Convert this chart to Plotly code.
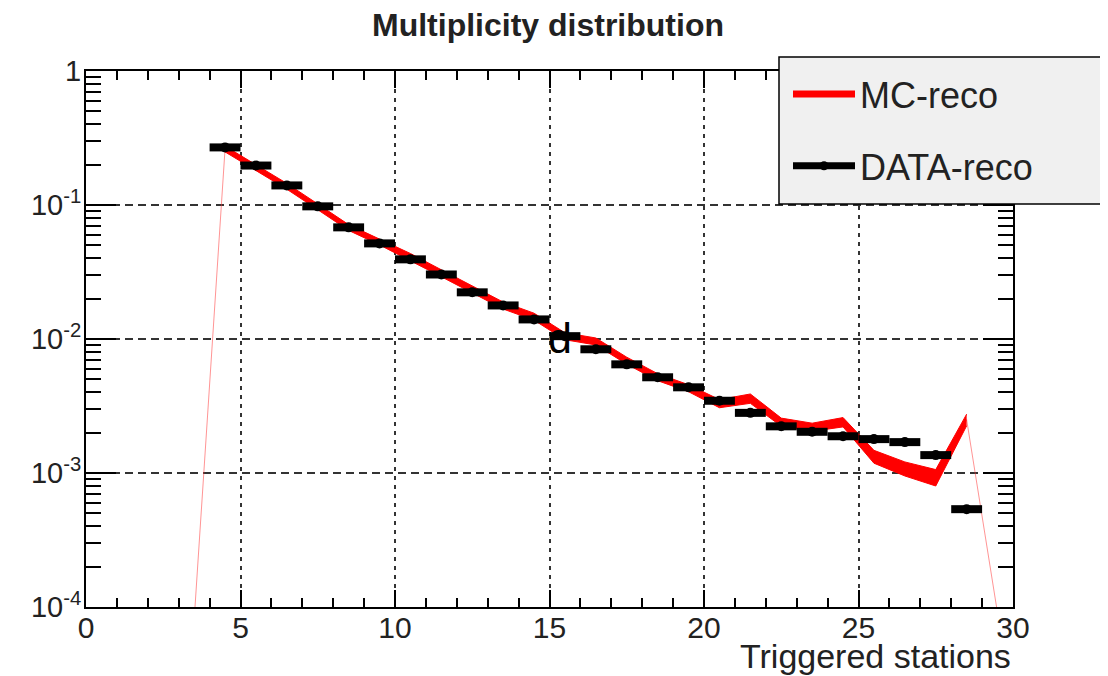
import plotly.graph_objects as go

# ---------------- data ----------------
data_x = [4.5 + i for i in range(25)]
data_y = [0.269, 0.197, 0.140, 0.0977, 0.0681, 0.0517, 0.0393, 0.0303, 0.0223,
          0.0178, 0.0140, 0.0105, 0.00838, 0.00647, 0.00518, 0.00436, 0.00346,
          0.00281, 0.00223, 0.00203, 0.00188, 0.00179, 0.00170, 0.00136, 0.000537]

mc_x = [3.5 + i for i in range(27)]
mc_y = [8e-5, 0.262, 0.190, 0.138, 0.097, 0.068, 0.053, 0.041, 0.031, 0.0235,
        0.0178, 0.0147, 0.0105, 0.0096, 0.0069, 0.0052, 0.0043, 0.0033, 0.0036,
        0.0024, 0.0022, 0.0024, 0.00133, 0.00108, 0.00093, 0.0025, 9e-5]
# relative MC uncertainty for bins 4.5 .. 28.5
mc_relerr = [0.05, 0.05, 0.05, 0.05, 0.05, 0.05, 0.06, 0.06, 0.06, 0.06, 0.06,
             0.06, 0.06, 0.06, 0.06, 0.06, 0.07, 0.08, 0.07, 0.07, 0.08, 0.11,
             0.12, 0.14, 0.10]

x_ticks = [0, 5, 10, 15, 20, 25, 30]
y_ticks = [1e-4, 1e-3, 1e-2, 1e-1, 1]
y_ticktext = ["10<sup>-4</sup>", "10<sup>-3</sup>", "10<sup>-2</sup>", "10<sup>-1</sup>", "1"]

FONT = "Liberation Sans, Arial, sans-serif"

# the page body adds an 8px offset, so the figure is 8px smaller
OFF = 8
W, H = 1108 - OFF, 676 - OFF
PL, PR, PT, PB = 86, 1013, 71, 607          # plot area in window pixels
PW, PH = PR - PL, PB - PT

band_x = mc_x[1:-1]
band_v = mc_y[1:-1]
band_lo = [v * (1 - e) for v, e in zip(band_v, mc_relerr)]
band_hi = [v * (1 + e) for v, e in zip(band_v, mc_relerr)]

fig = go.Figure()

# thin MC line through all points
fig.add_trace(go.Scatter(x=mc_x, y=mc_y, mode="lines",
                         line=dict(color="rgba(255,60,60,0.55)", width=1),
                         showlegend=False, hoverinfo="skip"))
# MC error band
fig.add_trace(go.Scatter(x=band_x, y=band_lo, mode="lines",
                         line=dict(color="red", width=1),
                         showlegend=False, hoverinfo="skip"))
fig.add_trace(go.Scatter(x=band_x, y=band_hi, mode="lines", fill="tonexty",
                         fillcolor="red", line=dict(color="red", width=1),
                         showlegend=False, hoverinfo="skip"))
# data points
fig.add_trace(go.Scatter(x=data_x, y=data_y, mode="markers",
                         marker=dict(color="black", size=10, symbol="circle"),
                         error_x=dict(type="constant", value=0.5, color="black",
                                      thickness=8, width=0),
                         showlegend=False))

# legend entries
fig.add_trace(go.Scatter(x=[None], y=[None], mode="lines", name="MC-reco",
                         line=dict(color="red", width=7), legendgroup="mc"))
fig.add_trace(go.Scatter(x=[None], y=[None], mode="lines+markers", name="DATA-reco",
                         line=dict(color="black", width=7),
                         marker=dict(color="black", size=9), legendgroup="data"))

minor_y = [m * 10 ** e for e in range(-4, 0) for m in range(2, 10)]


def px_x(p):
    return (p - PL) / PW


def px_y(p):
    return (PB - p) / PH


fig.update_layout(
    width=W, height=H,
    margin=dict(l=PL - OFF, r=1108 - PR, t=PT - OFF, b=676 - PB),
    paper_bgcolor="white", plot_bgcolor="white",
    font=dict(family=FONT, color="#222"),
    title=dict(text="Multiplicity distribution", x=(548 - OFF) / W, xanchor="center",
               y=1 - (25 - OFF) / H, yanchor="middle",
               font=dict(size=32, family=FONT, color="#222", weight="bold")),
    xaxis=dict(range=[0, 30], tickvals=x_ticks, ticks="inside", ticklen=17,
               tickwidth=1.5, tickcolor="black", showline=True, linecolor="black",
               linewidth=2, mirror="ticks", showgrid=True, gridcolor="#333",
               gridwidth=1.5, griddash="4px,5px", zeroline=False,
               ticklabelstandoff=-7,
               tickfont=dict(size=30, family=FONT, color="#222"),
               minor=dict(dtick=1, ticks="inside", ticklen=9, tickwidth=1.5,
                          tickcolor="black", showgrid=False)),
    yaxis=dict(type="log", range=[-4, 0], tickvals=y_ticks, ticktext=y_ticktext,
               ticks="inside", ticklen=30, tickwidth=1.5, tickcolor="black",
               showline=True, linecolor="black", linewidth=2, mirror="ticks",
               showgrid=True, gridcolor="#333", gridwidth=1.5, griddash="8px,5px",
               zeroline=False, ticklabelstandoff=-3,
               tickfont=dict(size=29, family=FONT, color="#222"),
               minor=dict(tickvals=minor_y, ticks="inside", ticklen=15,
                          tickwidth=1.5, tickcolor="black", showgrid=False)),
    legend=dict(x=px_x(788), y=px_y(64), xanchor="left", yanchor="top",
                bgcolor="rgba(0,0,0,0)", borderwidth=0,
                font=dict(size=36, family=FONT, color="#222"),
                itemwidth=62, tracegroupgap=22, traceorder="grouped"),
    shapes=[dict(type="rect", xref="paper", yref="paper",
                 x0=px_x(779), x1=px_x(1125),
                 y0=px_y(204), y1=px_y(57),
                 fillcolor="#f0f0f0", line=dict(color="black", width=1.5),
                 layer="above")],
    annotations=[
        dict(text="Triggered stations", xref="paper", yref="paper", x=1.0,
             y=px_y(656), xanchor="right", yanchor="middle",
             showarrow=False, font=dict(size=34, family=FONT, color="#222")),
        dict(text="d", xref="paper", yref="paper", x=px_x(560),
             y=px_y(338), xanchor="center", yanchor="middle",
             showarrow=False, font=dict(size=43, family=FONT, color="black")),
    ],
)

fig.write_html("out.html")
